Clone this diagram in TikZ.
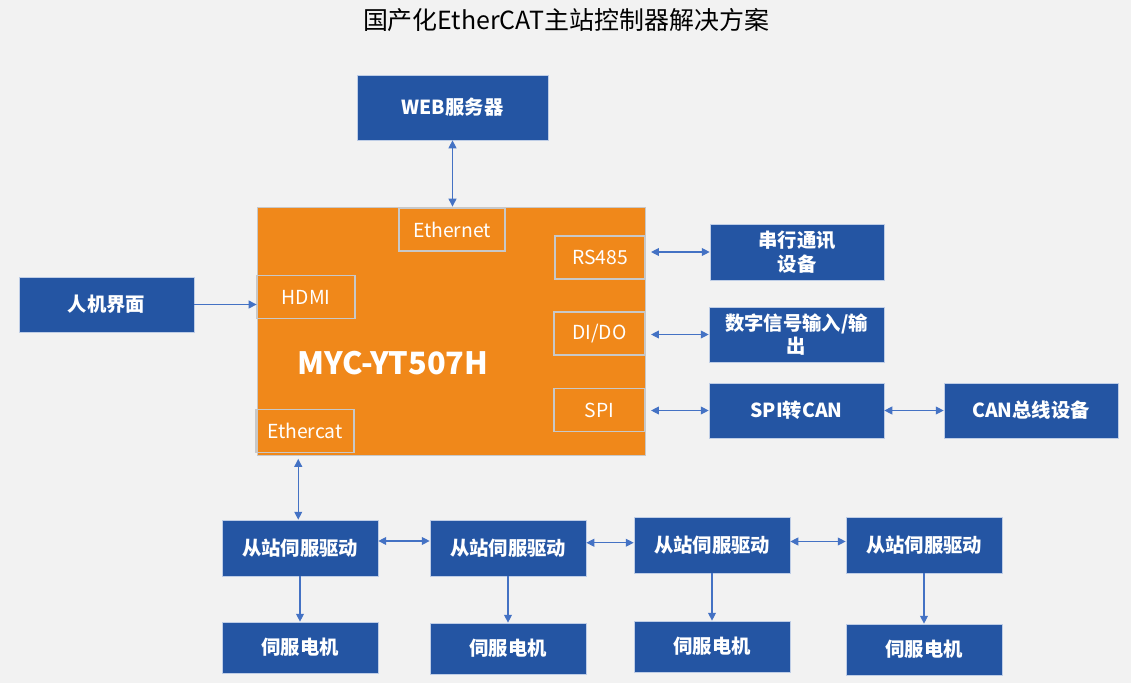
\documentclass[tikz,border=0pt]{standalone}
\usepackage{fontspec}
\setmainfont{Noto Sans CJK SC}
\usepackage{tikz}
\usetikzlibrary{arrows.meta,positioning,calc}
\definecolor{bgray}{RGB}{242,242,242}
\definecolor{boxblue}{RGB}{36,85,163}
\definecolor{mcuorange}{RGB}{240,136,26}
\definecolor{linkblue}{RGB}{68,114,196}
\definecolor{portgray}{RGB}{200,200,200}

\begin{document}
\begin{tikzpicture}[x=0.02cm,y=-0.02cm,
    bluebox/.style={draw={rgb,255:red,190;green,205;blue,230},line width=0.4pt,fill=boxblue,text=white,
        font=\fontsize{11}{13.5}\selectfont\bfseries,align=center,inner sep=2pt},
    port/.style={draw=portgray,line width=0.9pt,text=white,font=\fontsize{11}{13}\selectfont,
        minimum width=1.8cm,minimum height=0.86cm,inner sep=0pt},
    link/.style={linkblue,line width=0.6pt},
    tip/.tip={Triangle[length=4.5pt,width=4.5pt]}]
    % background
    \fill[bgray] (0,0) rectangle (1131,683);
    \useasboundingbox (0,0) rectangle (1131,683);
    \node[font=\fontsize{14.2}{17}\selectfont] (title) at (566,20) {国产化EtherCAT主站控制器解决方案};

    % MCU board
    \node[draw=portgray,line width=0.5pt,fill=mcuorange,minimum width=7.76cm,minimum height=4.96cm,inner sep=0pt] (mcu) at (451,331) {};
    \node[text=white,font=\fontsize{17.5}{21}\selectfont\bfseries] (name) at (393,363) {MYC-YT507H};
    \node[port,minimum width=2.12cm] (ethn) at (452,229.5) {Ethernet};
    \node[port,minimum width=1.8cm] (rs) at (600,257.5) {RS485};
    \node[port,minimum width=1.96cm] (hdmi) at (306,297) {HDMI};
    \node[port,minimum width=1.82cm] (dio) at (599.5,333.5) {DI/DO};
    \node[port,minimum width=1.82cm] (spi) at (599.5,410) {SPI};
    \node[port,minimum width=1.96cm] (ethc) at (305,431) {Ethercat};

    % peripherals
    \node[bluebox,minimum width=3.82cm,minimum height=1.3cm] (web) at (452.5,107.5) {WEB服务器};
    \node[bluebox,minimum width=3.5cm,minimum height=1.1cm] (hmi) at (106.5,304.5) {人机界面};
    \node[bluebox,minimum width=3.48cm,minimum height=1.12cm] (ser) at (797,252) {串行通讯\\设备};
    \node[bluebox,minimum width=3.5cm,minimum height=1.1cm] (dig) at (796.5,334.5) {数字信号输入/输\\出};
    \node[bluebox,minimum width=3.5cm,minimum height=1.1cm] (conv) at (796.5,410.5) {SPI转CAN};
    \node[bluebox,minimum width=3.48cm,minimum height=1.1cm] (can) at (1031,410.5) {CAN总线设备};

    % slave drives and motors
    \foreach \i/\x/\ys/\ym in {1/300/548/647.5, 2/508/548/648.5, 3/712/545/646.5, 4/924/545/649.5}{
        \node[bluebox,minimum width=3.12cm,minimum height=1.12cm] (s\i) at (\x,\ys) {从站伺服驱动};
        \node[bluebox,minimum width=3.12cm,minimum height=1.02cm] (m\i) at (\x,\ym) {伺服电机};
        \draw[link,-tip] (s\i.south) -- (m\i.north);
    }

    % connectors
    \draw[link,tip-tip] (web.south) -- (web.south |- mcu.north);
    \draw[link,-tip] (hmi.east) -- (hmi.east -| mcu.west);
    \draw[link,tip-tip] ([xshift=3pt]ser.west -| rs.east) -- (ser.west);
    \draw[link,tip-tip] ([xshift=3pt]dig.west -| dio.east) -- (dig.west);
    \draw[link,tip-tip] ([xshift=3pt]conv.west -| spi.east) -- (conv.west);
    \draw[link,tip-tip] (conv.east) -- (can.west);
    \draw[link,tip-tip] ([yshift=-2pt,xshift=-1pt]s1.north |- mcu.south) -- ([xshift=-1pt]s1.north);
    \draw[link,tip-tip] ([yshift=4pt]s1.east) -- ([yshift=4pt]s1.east -| s2.west);
    \draw[link,tip-tip] ([yshift=3pt]s2.east) -- ([yshift=3pt]s2.east -| s3.west);
    \draw[link,tip-tip] ([yshift=2pt]s3.east) -- ([yshift=2pt]s3.east -| s4.west);
\end{tikzpicture}
\end{document}
